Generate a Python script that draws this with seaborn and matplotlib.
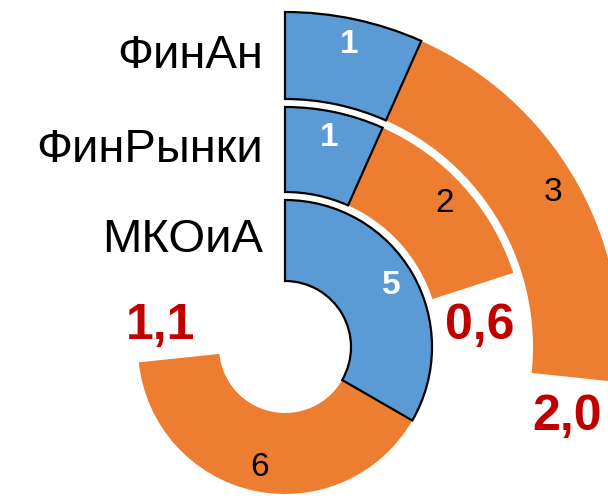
import numpy as np
import matplotlib
matplotlib.use("Agg")
import matplotlib.pyplot as plt
import seaborn as sns

# rings from outer to inner
programs = ["ФинАн", "ФинРынки", "МКОиА"]
blue_vals = [1, 1, 5]
orange_vals = [3, 2, 6]
ratio_labels = ["2,0", "0,6", "1,1"]

# layout / style
full_scale = 15  # units for a full circle
ring_radii = [(248, 335), (155, 240), (66, 147)]  # pixel-like radial units
ratio_dr = [-1, -2, 20]
ratio_pad_px = [40, 40, 34]
blue = "#5B9BD5"
orange = "#ED7D31"
red = "#C00000"

sns.set_theme(style="white")
plt.rcParams["font.family"] = ["Liberation Sans", "DejaVu Sans"]

W, H = 608, 496
cx, cy = 285, 347  # center in pixels from top-left
R = 340
fig = plt.figure(figsize=(W / 100, H / 100), dpi=100)
ax = fig.add_axes([(cx - R) / W, (H - cy - R) / H, 2 * R / W, 2 * R / H],
                  projection="polar")
ax.set_theta_zero_location("N")
ax.set_theta_direction(-1)
ax.set_ylim(0, R)
ax.axis("off")

unit = 2 * np.pi / full_scale

for name, b, o, lab, (r0, r1), dr, pad in zip(programs, blue_vals, orange_vals,
                                              ratio_labels, ring_radii,
                                              ratio_dr, ratio_pad_px):
    w = r1 - r0
    ax.bar(0, w, width=b * unit, bottom=r0, align="edge", color=blue,
           edgecolor="black", linewidth=1.6, zorder=3)
    ax.bar(b * unit, w, width=o * unit, bottom=r0, align="edge", color=orange,
           edgecolor="none", zorder=2)
    rl = r0 + 0.7 * w
    ax.text(b * unit / 2, rl, str(b), color="white", fontsize=24,
            fontweight="bold", ha="center", va="center", zorder=5)
    ax.text((b + o / 2) * unit, rl, str(o), color="black", fontsize=24,
            ha="center", va="center", zorder=5)
    rm = (r0 + r1) / 2 + dr
    end = (b + o) * unit
    ax.text(end + pad / rm, rm, lab, color=red, fontsize=36,
            fontweight="bold", ha="center", va="center", zorder=5)
    ax.annotate(name, xy=(0, (r0 + r1) / 2), xytext=(-22, 0),
                textcoords="offset pixels", ha="right", va="center",
                fontsize=34, color="black", annotation_clip=False)

fig.savefig("out.png", dpi=100)
